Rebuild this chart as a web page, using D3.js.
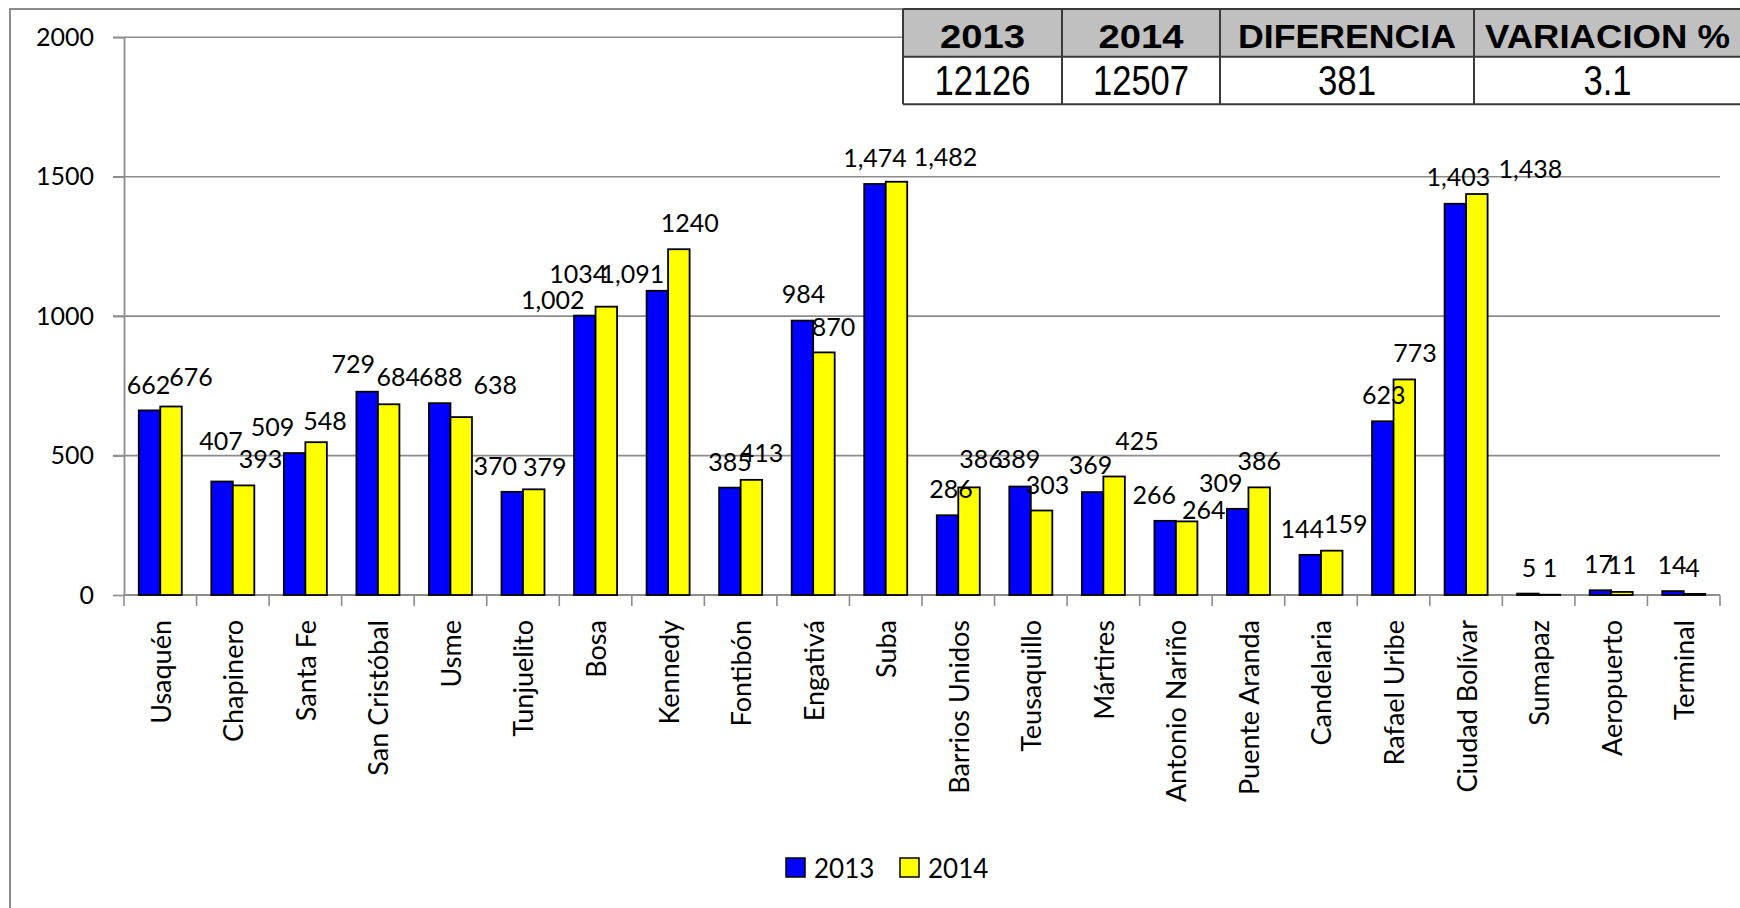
<!DOCTYPE html>
<html>
<head>
<meta charset="utf-8">
<script src="https://cdn.jsdelivr.net/npm/d3@7"></script>
<style>
  html, body { margin: 0; padding: 0; background: #fff; }
  svg { display: block; }
  text { font-family: Lato, "Open Sans", sans-serif; fill: #000; }
</style>
</head>
<body>
<svg id="chart" width="1740" height="908"></svg>
<script>
const categories = ["Usaquén","Chapinero","Santa Fe","San Cristóbal","Usme","Tunjuelito","Bosa","Kennedy","Fontibón","Engativá","Suba","Barrios Unidos","Teusaquillo","Mártires","Antonio Nariño","Puente Aranda","Candelaria","Rafael Uribe","Ciudad Bolívar","Sumapaz","Aeropuerto","Terminal"];
const values2013 = [662,407,509,729,688,370,1002,1091,385,984,1474,286,389,369,266,309,144,623,1403,5,17,14];
const values2014 = [676,393,548,684,638,379,1034,1240,413,870,1482,386,303,425,264,386,159,773,1438,1,11,4];
const seriesNames = ["2013","2014"];
const seriesColors = ["#0000FF","#FFFF00"];
const yTicks = [0,500,1000,1500,2000];
const tableHeaders = ["2013","2014","DIFERENCIA","VARIACION %"];
const tableValues = ["12126","12507","381","3.1"];
// categories whose 2014 label is shown without thousands separator
const plainLabel2014 = ["Bosa","Kennedy"];

// label nudges [dx, dy] from the default "above bar" position (layout only)
const nudge2013 = [[-1,1],[-1,-14.5],[-22,0],[-14,-1],[1,0],[-17,0],[-32,11],[-25,9],[0,1],[1,0],[0,0],[3.5,0],[-1.5,-1],[-2,-1],[-11,0],[-17,0],[-8,0],[1,0],[3,-1],[1,1],[-2,0],[-1,0]];
const nudge2014 = [[20,-3],[17,0],[9,5.5],[9.5,-1],[34,-6],[11,4],[-28,-6.6],[11,0],[10,-1],[9.5,1],[49,2],[12,-2],[6,0.5],[23,-9.5],[17,15],[0,0],[14,0],[10.6,-0.5],[53.5,1],[0.6,0],[0,-1],[-2,0]];

const svg = d3.select("#chart");

// outer chart border
svg.append("path")
  .attr("d", "M10,908 L10,9 L903,9")
  .attr("fill", "none").attr("stroke", "#8c8c8c").attr("stroke-width", 2);

const plot = { left: 124, right: 1720, top: 37.3, bottom: 595 };

const x = d3.scaleBand().domain(categories).range([plot.left, plot.right]).paddingInner(0).paddingOuter(0);
const xs = d3.scaleBand().domain(seriesNames).range([0, x.bandwidth()]).paddingInner(0).paddingOuter(0.687);
const y = d3.scaleLinear().domain([0, 2000]).range([plot.bottom, plot.top]);

// gridlines
svg.append("g").selectAll("line").data(yTicks.filter(d => d > 0)).join("line")
  .attr("x1", plot.left - 11).attr("x2", plot.right)
  .attr("y1", d => y(d)).attr("y2", d => y(d))
  .attr("stroke", "#8c8c8c").attr("stroke-width", 1.6);

// y axis
const yAxis = svg.append("g").attr("transform", `translate(${plot.left},0)`)
  .call(d3.axisLeft(y).tickValues(yTicks).tickFormat(d3.format("d")).tickSize(11).tickPadding(19).tickSizeOuter(0));
yAxis.select(".domain").attr("stroke", "#8c8c8c").attr("stroke-width", 1.8);
yAxis.selectAll(".tick line").attr("stroke", "#8c8c8c").attr("stroke-width", 1.6);
yAxis.selectAll(".tick text").style("font-family", "Lato").style("font-size", "25px").attr("fill", "#000");

// x axis baseline + ticks at band boundaries
const boundaries = categories.map(c => x(c)).concat([plot.right]);
svg.append("line").attr("x1", plot.left).attr("x2", plot.right)
  .attr("y1", y(0)).attr("y2", y(0)).attr("stroke", "#8c8c8c").attr("stroke-width", 1.8);
svg.append("g").selectAll("line").data(boundaries).join("line")
  .attr("x1", d => d).attr("x2", d => d)
  .attr("y1", y(0)).attr("y2", y(0) + 11)
  .attr("stroke", "#8c8c8c").attr("stroke-width", 1.6);

// category labels
svg.append("g").selectAll("text").data(categories).join("text")
  .attr("transform", d => `translate(${x(d) + x.bandwidth() / 2 + 1},620) rotate(-90)`)
  .attr("text-anchor", "end").attr("dy", "0.35em")
  .style("font-size", "27px")
  .text(d => d);

// bars
const rows = categories.map((c, i) => ({ cat: c, vals: [values2013[i], values2014[i]], i }));
const groups = svg.append("g").selectAll("g").data(rows).join("g")
  .attr("transform", d => `translate(${x(d.cat)},0)`);
groups.selectAll("rect").data(d => d.vals.map((v, k) => ({ v, k, s: seriesNames[k] }))).join("rect")
  .attr("x", d => xs(d.s)).attr("width", xs.bandwidth())
  .attr("y", d => y(d.v)).attr("height", d => y(0) - y(d.v))
  .attr("fill", d => seriesColors[d.k])
  .attr("stroke", "#000").attr("stroke-width", 1.8);

// data labels
const fmtComma = d3.format(",");
const labelData = [];
rows.forEach(r => {
  r.vals.forEach((v, k) => {
    const n = k === 0 ? nudge2013[r.i] : nudge2014[r.i];
    const txt = (k === 1 && plainLabel2014.includes(r.cat)) ? String(v) : fmtComma(v);
    labelData.push({
      x: x(r.cat) + xs(seriesNames[k]) + xs.bandwidth() / 2 + n[0],
      y: y(v) - 26 + n[1],
      txt
    });
  });
});
svg.append("g").selectAll("text").data(labelData).join("text")
  .attr("x", d => d.x).attr("y", d => d.y).attr("dy", "0.35em")
  .attr("text-anchor", "middle").style("font-size", "25px")
  .text(d => d.txt);

// legend
const legend = svg.append("g");
const legendX = [786, 900];
seriesNames.forEach((s, k) => {
  legend.append("rect").attr("x", legendX[k]).attr("y", 858).attr("width", 19).attr("height", 19)
    .attr("fill", seriesColors[k]).attr("stroke", "#000").attr("stroke-width", 1.5);
  legend.append("text").attr("x", legendX[k] + 28).attr("y", 877.5)
    .style("font-size", "26px").text(s);
});

// summary table
const colEdges = [903, 1062, 1220, 1474, 1742];
const rowEdges = [9, 56.7, 104.3];
const headerWidths = [85, 85, 218, 245];
const valueWidths = [96, 96, 58, 48];
const tbl = svg.append("g");
tbl.append("rect").attr("x", colEdges[0]).attr("y", rowEdges[0])
  .attr("width", colEdges[4] - colEdges[0]).attr("height", rowEdges[1] - rowEdges[0])
  .attr("fill", "#c0c0c0");
tbl.append("rect").attr("x", colEdges[0]).attr("y", rowEdges[1])
  .attr("width", colEdges[4] - colEdges[0]).attr("height", rowEdges[2] - rowEdges[1])
  .attr("fill", "#fff");
rowEdges.forEach(r => tbl.append("line").attr("x1", colEdges[0]).attr("x2", colEdges[4])
  .attr("y1", r).attr("y2", r).attr("stroke", "#3a3a3a").attr("stroke-width", 2));
colEdges.forEach(c => tbl.append("line").attr("x1", c).attr("x2", c)
  .attr("y1", rowEdges[0]).attr("y2", rowEdges[2]).attr("stroke", "#3a3a3a").attr("stroke-width", 2));
tableHeaders.forEach((h, i) => {
  const cx = i < 3 ? (colEdges[i] + colEdges[i + 1]) / 2 : 1607.5;
  tbl.append("text").attr("x", cx).attr("y", 48.3).attr("text-anchor", "middle")
    .style("font-family", "'Liberation Sans', Arial, sans-serif").style("font-weight", "bold").style("font-size", "32.5px")
    .attr("textLength", headerWidths[i]).attr("lengthAdjust", "spacingAndGlyphs")
    .text(h);
  tbl.append("text").attr("x", cx).attr("y", 95).attr("text-anchor", "middle")
    .style("font-family", "'Liberation Sans', Arial, sans-serif").style("font-size", "42px")
    .attr("textLength", valueWidths[i]).attr("lengthAdjust", "spacingAndGlyphs")
    .text(tableValues[i]);
});
</script>
</body>
</html>
